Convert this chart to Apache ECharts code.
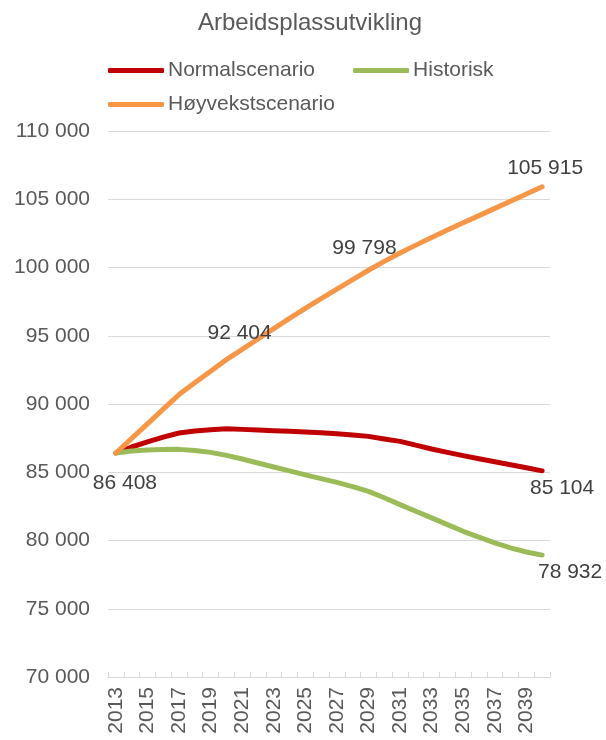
<!DOCTYPE html>
<html>
<head>
<meta charset="utf-8">
<script src="https://cdn.jsdelivr.net/npm/echarts@6/dist/echarts.min.js"></script>
<style>
html,body{margin:0;padding:0;background:#fff;}
#chart{width:606px;height:740px;}
</style>
</head>
<body>
<div id="chart"></div>
<script>
const years = ['2013','2014','2015','2016','2017','2018','2019','2020','2021','2022','2023','2024','2025','2026','2027','2028','2029','2030','2031','2032','2033','2034','2035','2036','2037','2038','2039','2040'];

const normalscenario = [86408,86850,87218,87570,87877,88020,88119,88192,88141,88100,88045,88000,87950,87900,87826,87730,87628,87438,87262,86990,86706,86460,86215,85990,85770,85550,85330,85104];

const historisk = [86408,86560,86632,86670,86676,86590,86457,86237,85974,85680,85388,85100,84802,84530,84261,83950,83602,83130,82628,82140,81654,81160,80673,80250,79830,79460,79160,78932];

const hoyvekstscenario = [86408,87480,88550,89620,90690,91560,92404,93250,94000,94760,95520,96270,97000,97720,98420,99110,99798,100450,101060,101640,102200,102750,103280,103800,104330,104860,105390,105915];

const yTicks = [70000,75000,80000,85000,90000,95000,100000,105000,110000];

function fmt(v){ return String(Math.round(v)).replace(/\B(?=(\d{3})+(?!\d))/g, ' '); }

const FONT = 'Liberation Sans, Arial, sans-serif';
const labelColor = '#404040';

// which points carry a value label, and where that label sits (styling only)
const labelSpec = {
  Normalscenario: {27: [20, 17]},
  Historisk: {0: [9, 30], 27: [28, 17]},
  'Høyvekstscenario': {6: [29, -38], 16: [-4, -22], 27: [3, -19]}
};

function buildData(name, values){
  const spec = labelSpec[name] || {};
  return values.map(function(v, i){
    if (spec[i]) {
      return {value: v, label: {show: true, position: 'inside', offset: spec[i],
        formatter: function(p){ return fmt(p.value); },
        color: labelColor, fontSize: 21, fontFamily: FONT}};
    }
    return {value: v};
  });
}

function lineSeries(name, values, color){
  return {
    name: name,
    type: 'line',
    data: buildData(name, values),
    smooth: false,
    symbol: 'circle',
    symbolSize: 0.1,
    showSymbol: true,
    showAllSymbol: true,
    itemStyle: {color: color},
    lineStyle: {color: color, width: 5, cap: 'round', join: 'round'},
    label: {show: false},
    emphasis: {disabled: true},
    animation: false
  };
}

const chart = echarts.init(document.getElementById('chart'), null, {renderer: 'canvas'});
chart.setOption({
  backgroundColor: '#ffffff',
  animation: false,
  textStyle: {fontFamily: FONT},
  title: {
    text: 'Arbeidsplassutvikling',
    left: 305, top: 6, textAlign: 'center',
    textStyle: {fontFamily: FONT, fontSize: 24, fontWeight: 'normal', color: '#595959'}
  },
  legend: [
    {
      data: ['Normalscenario', 'Historisk'],
      left: 103, top: 55, orient: 'horizontal',
      icon: 'roundRect', itemWidth: 56, itemHeight: 5, itemGap: 38,
      textStyle: {fontFamily: FONT, fontSize: 21, color: '#595959', padding: [0, 0, 0, -1]}
    },
    {
      data: ['Høyvekstscenario'],
      left: 103, top: 89, orient: 'horizontal',
      icon: 'roundRect', itemWidth: 56, itemHeight: 5,
      textStyle: {fontFamily: FONT, fontSize: 21, color: '#595959', padding: [0, 0, 0, -1]}
    }
  ],
  grid: {left: 108, right: 56, top: 131, bottom: 63, containLabel: false},
  xAxis: {
    type: 'category',
    data: years,
    boundaryGap: true,
    axisLine: {show: true, lineStyle: {color: '#d9d9d9', width: 1}},
    axisTick: {show: true, inside: true, length: 5, interval: 0, lineStyle: {color: '#d9d9d9'}},
    axisLabel: {interval: 1, rotate: 90, margin: 10, fontSize: 21, color: '#595959', fontFamily: FONT}
  },
  yAxis: {
    type: 'value',
    min: yTicks[0], max: yTicks[yTicks.length - 1], interval: yTicks[1] - yTicks[0],
    axisLine: {show: false},
    axisTick: {show: false},
    splitLine: {show: true, lineStyle: {color: '#d9d9d9', width: 1}},
    axisLabel: {margin: 18, fontSize: 21, color: '#595959', fontFamily: FONT,
      formatter: function(v){ return fmt(v); }}
  },
  series: [
    lineSeries('Normalscenario', normalscenario, '#C00000'),
    lineSeries('Historisk', historisk, '#9BBB59'),
    lineSeries('Høyvekstscenario', hoyvekstscenario, '#F79646')
  ]
});
</script>
</body>
</html>
